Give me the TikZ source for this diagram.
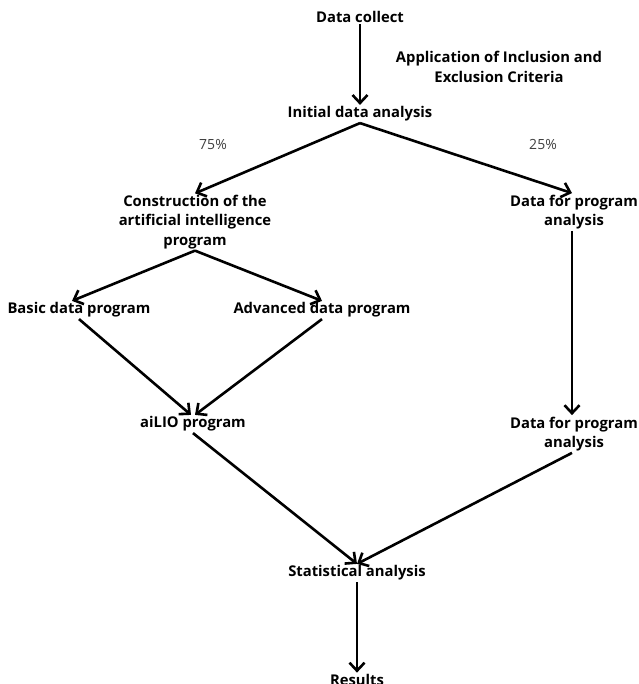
\documentclass[tikz,border=0pt]{standalone}
\usepackage{fontspec}
\setmainfont{Open Sans}
\usetikzlibrary{arrows.meta}

\begin{document}
\begin{tikzpicture}
[x=1pt,y=-1pt,
  lineDecorate/.style={-{Straight Barb[length=8pt,width=15pt,line width=2.6pt]},line width=2.6pt},%
  nodeDecorate/.style={align=center,inner sep=1.5pt,font=\fontsize{14.8}{19.5}\selectfont\bfseries},%
  labelDecorate/.style={inner sep=0pt,font=\fontsize{14}{16}\selectfont,text=black!75}]
\useasboundingbox (0,0) rectangle (638,684);
%% nodes or steps
\foreach \nodename/\x/\y/\txt in {
  collect/360/17/Data collect,
  criteria/499/67/Application of Inclusion and\\Exclusion Criteria,
  init/360/114/Initial data analysis,
  constr/195/222/Construction of the\\artificial intelligence\\program,
  data1/574/212/Data for program\\analysis,
  basic/79/310/Basic data program,
  adv/322/310/Advanced data program,
  ailio/193/424/aiLIO program,
  data2/574/434/Data for program\\analysis,
  stat/357/573/Statistical analysis,
  results/357/680/Results}
{
  \node (\nodename) at (\x,\y) [nodeDecorate] {\txt};
}
%% percentages
\node (p75) at (213,145) [labelDecorate] {75\%};
\node (p25) at (543,145) [labelDecorate] {25\%};
%% arrows
\path
\foreach \startnode/\sx/\endnode/\ex in {
  collect.south/0/init.north/0, init.south/0/constr.north/0,
  init.south/0/data1.north/-2, constr.south/0/basic.north/-7,
  constr.south/0/adv.north/0, basic.south/0/ailio.north/-2,
  adv.south/0/ailio.north/2, data1.south/-2/data2.north/-2,
  ailio.south/0/stat.north/0, data2.south/-2/stat.north/0,
  stat.south/0/results.north/0}
{
  ([xshift=\sx pt]\startnode) edge[lineDecorate] ([xshift=\ex pt]\endnode)
};
\end{tikzpicture}
\end{document}
